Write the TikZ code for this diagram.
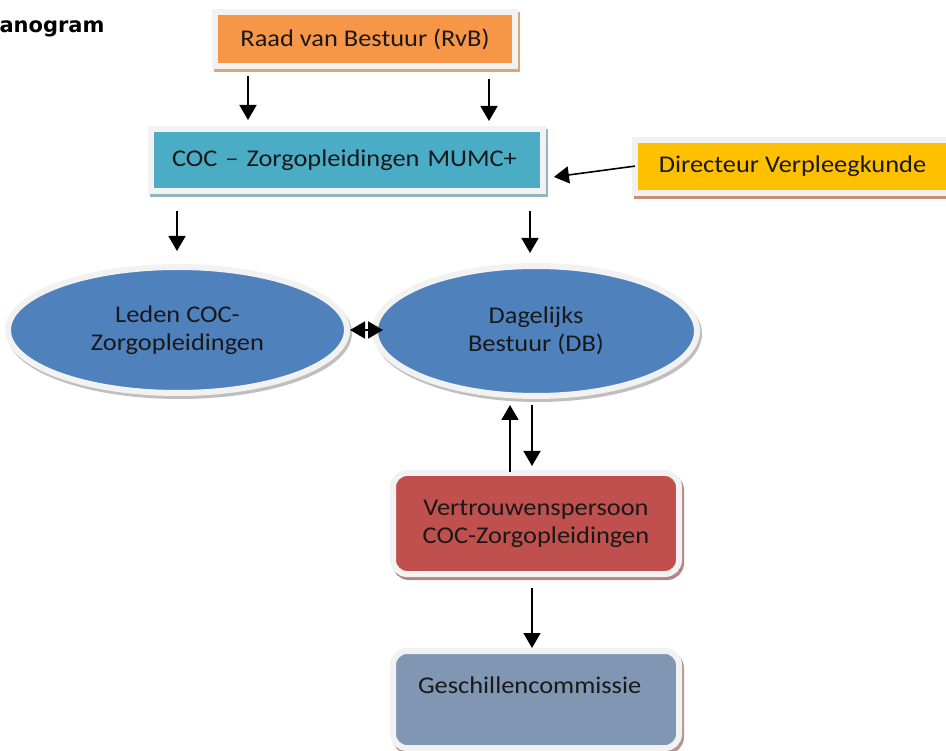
\documentclass[tikz,border=0pt]{standalone}
\usepackage{fontspec}
\setmainfont[FakeStretch=1.1]{Carlito}
\newfontfamily\titlefont{DejaVu Sans}
\usetikzlibrary{shapes.geometric,arrows.meta}

\definecolor{frameC}{HTML}{F2F2F2}
\definecolor{raadC}{HTML}{F79646}
\definecolor{cocC}{HTML}{4BACC6}
\definecolor{dirC}{HTML}{FFC000}
\definecolor{ellC}{HTML}{4F81BD}
\definecolor{vpC}{HTML}{C0504D}
\definecolor{geC}{HTML}{8096B2}
\definecolor{shRaad}{HTML}{D9A47E}
\definecolor{shCoc}{HTML}{92B5BE}
\definecolor{shDir}{HTML}{C8906E}
\definecolor{shEll}{HTML}{BFBFBF}
\definecolor{shVp}{HTML}{B58584}
\definecolor{shGe}{HTML}{B89494}

\tikzset{
  basebox/.style={line width=6pt, draw=frameC, inner sep=0pt, text=black!90,
    font=\fontsize{24}{28}\selectfont},
  shadowed/.style={preaction={fill=#1, draw=#1, line width=6pt,
    transform canvas={xshift=2pt,yshift=-3pt}}},
  rbox/.style={basebox, rectangle},
  rrbox/.style={basebox, rectangle, rounded corners=14pt},
  ebox/.style={basebox, ellipse, align=center},
  arr/.style={-{Triangle[width=17pt,length=15pt]}, line width=1.6pt},
  arrtwo/.style={{Triangle[width=17pt,length=15pt]}-{Triangle[width=17pt,length=15pt]}, line width=1.6pt},
}

\begin{document}
\begin{tikzpicture}[x=1pt,y=-1pt]
\useasboundingbox (0,0) rectangle (946,751);

\node[anchor=base west, font=\titlefont\bfseries\fontsize{21}{24}\selectfont] (title) at (-4,33) {anogram};

\node[rbox, shadowed=shRaad, fill=raadC, minimum width=300pt, minimum height=54pt] (raad) at (365,39) {Raad van Bestuur (RvB)};
\node[rbox, shadowed=shCoc, fill=cocC, minimum width=392pt, minimum height=62pt, text width=350pt, align=left] (coc) at (347,160) {COC -- Zorgopleidingen MUMC+};
\node[rbox, shadowed=shDir, fill=dirC, minimum width=315pt, minimum height=53pt] (dir) at (792.5,166.5) {Directeur Verpleegkunde};

\node[ebox, shadowed=shEll, fill=ellC, minimum width=339pt, minimum height=126pt] (le) at (177.5,330) {Leden COC-\\Zorgopleidingen};
\node[ebox, shadowed=shEll, fill=ellC, minimum width=322pt, minimum height=130pt] (de) at (536,331) {Dagelijks\\Bestuur (DB)};

\node[rrbox, shadowed=shVp, fill=vpC, minimum width=286pt, minimum height=101pt, align=center] (vp) at (536,523.5) {Vertrouwenspersoon\\COC-Zorgopleidingen};
\node[rrbox, shadowed=shGe, fill=geC, minimum width=286pt, minimum height=97pt, text width=236pt, align=left] (ge) at (536,699.5) {Geschillencommissie\\~};

\coordinate (xa) at (248,0);
\coordinate (xb) at (489,0);
\coordinate (xc) at (177,0);
\coordinate (xd) at (530,0);
\coordinate (xe) at (510,0);
\coordinate (xf) at (532,0);
\coordinate (ya) at (0,178);

\draw[arr, shorten <=7pt, shorten >=6pt] (raad.south -| xa) -- (coc.north -| xa);
\draw[arr, shorten <=10pt, shorten >=5pt] (raad.south -| xb) -- (coc.north -| xb);
\draw[arr, shorten <=-3pt, shorten >=8pt] (dir.west) -- (coc.east |- ya);
\draw[arr, shorten <=17pt, shorten >=13pt] (coc.south -| xc) -- (le.north -| xc);
\draw[arr, shorten <=17pt, shorten >=10pt] (coc.south -| xd) -- (de.north -| xd);
\draw[arrtwo, shorten <=0pt, shorten >=-11pt] (le.east) -- (le.east -| de.west);
\draw[arr, shorten <=-2pt, shorten >=6pt] (vp.north -| xe) -- (de.south -| xe);
\draw[arr, shorten <=6pt, shorten >=4pt] (de.south -| xf) -- (vp.north -| xf);
\draw[arr, shorten <=11pt, shorten >=0pt] (vp.south -| xf) -- (ge.north -| xf);
\end{tikzpicture}
\end{document}
